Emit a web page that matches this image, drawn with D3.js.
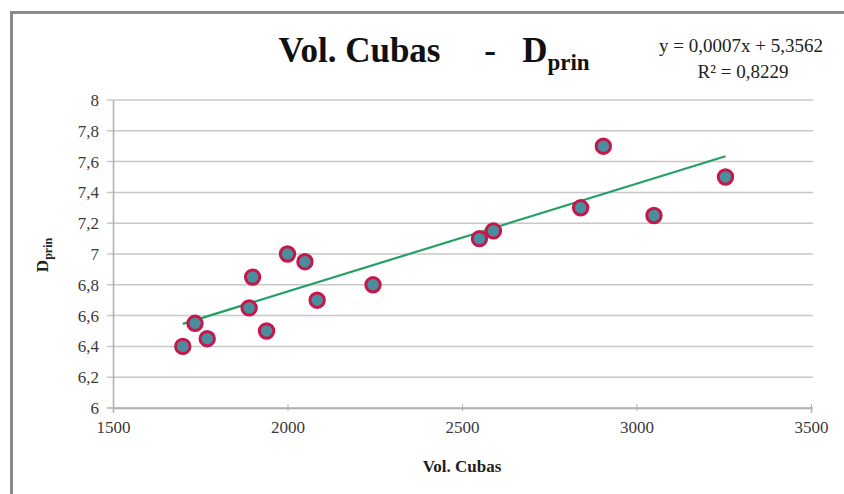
<!DOCTYPE html>
<html>
<head>
<meta charset="utf-8">
<script src="https://cdn.jsdelivr.net/npm/d3@7"></script>
<style>
  body { margin: 0; background: #fff; }
  svg text { font-family: "Liberation Serif", "DejaVu Serif", serif !important; white-space: pre; }
</style>
</head>
<body>
<div id="chart"></div>
<script>
// datos
var volCubas = [1700, 1735, 1770, 1890, 1900, 1940, 2000, 2050, 2085, 2245, 2550, 2590, 2840, 2905, 3050, 3255];
var dPrin    = [6.40, 6.55, 6.45, 6.65, 6.85, 6.50, 7.00, 6.95, 6.70, 6.80, 7.10, 7.15, 7.30, 7.70, 7.25, 7.50];
var xTicks = [1500, 2000, 2500, 3000, 3500];
var yTicks = [6, 6.2, 6.4, 6.6, 6.8, 7, 7.2, 7.4, 7.6, 7.8, 8];
var trend = { m: 0.0007, b: 5.3562 };

var width = 844, height = 494;
var serif = "Liberation Serif";
var svg = d3.select("#chart").append("svg")
    .attr("width", width)
    .attr("height", height);

// marco exterior
svg.append("rect")
    .attr("x", 11.5).attr("y", 12.5)
    .attr("width", 900).attr("height", 600)
    .attr("fill", "none")
    .attr("stroke", "#8a8a8a")
    .attr("stroke-width", 3);

var x = d3.scaleLinear().domain([1500, 3500]).range([113, 811]);
var y = d3.scaleLinear().domain([6, 8]).range([408, 100]);
var fmt = function (d) { return String(d).replace(".", ","); };

// lineas de cuadricula
svg.selectAll(".grid")
    .data(yTicks)
    .enter().append("line")
    .attr("x1", x(1500) - 6).attr("x2", x(3500) + 2)
    .attr("y1", function (d) { return y(d); })
    .attr("y2", function (d) { return y(d); })
    .attr("stroke", function (d) { return d === 6 ? "#b0b0b0" : "#c8c8c8"; })
    .attr("stroke-width", 1.5);

// eje Y
var yAxis = svg.append("g")
    .attr("transform", "translate(" + x(1500) + ",0)")
    .call(d3.axisLeft(y).tickValues(yTicks).tickSize(0).tickPadding(14).tickFormat(fmt));
yAxis.attr("font-family", serif);
yAxis.select(".domain").attr("stroke", "#b0b0b0").attr("stroke-width", 1.5);
yAxis.selectAll("text").attr("font-size", 17).attr("fill", "#3a3a3a");

// eje X
var xAxis = svg.append("g")
    .attr("transform", "translate(0," + y(6) + ")")
    .call(d3.axisBottom(x).tickValues(xTicks).tickSize(5).tickPadding(8).tickFormat(d3.format("d")));
xAxis.attr("font-family", serif);
xAxis.select(".domain").attr("stroke", "#b0b0b0").attr("stroke-width", 1.5);
xAxis.selectAll(".tick line").attr("stroke", "#b0b0b0").attr("y1", -4).attr("y2", 3);
xAxis.selectAll("text").attr("font-size", 17).attr("fill", "#3a3a3a");

// linea de tendencia
var x0 = d3.min(volCubas), x1 = d3.max(volCubas);
svg.append("line")
    .attr("x1", x(x0)).attr("y1", y(trend.m * x0 + trend.b))
    .attr("x2", x(x1)).attr("y2", y(trend.m * x1 + trend.b))
    .attr("stroke", "#23a064")
    .attr("stroke-width", 2.2);

// puntos
svg.selectAll(".pt")
    .data(volCubas)
    .enter().append("circle")
    .attr("cx", function (d) { return x(d); })
    .attr("cy", function (d, i) { return y(dPrin[i]); })
    .attr("r", 7.2)
    .attr("fill", "#4a8d9e")
    .attr("stroke", "#c8164a")
    .attr("stroke-width", 3);

// titulo
var title = svg.append("text")
    .attr("x", 434).attr("y", 62)
    .attr("text-anchor", "middle")
    .attr("font-family", serif)
    .attr("font-size", 35).attr("font-weight", "bold").attr("fill", "#111");
title.append("tspan").text("Vol. Cubas     -   D");
title.append("tspan").attr("font-size", 23).attr("dy", 8).text("prin");

// ecuacion
svg.append("text")
    .attr("x", 741).attr("y", 52)
    .attr("text-anchor", "middle")
    .attr("font-family", serif)
    .attr("font-size", 19).attr("fill", "#222")
    .text("y = 0,0007x + 5,3562");
svg.append("text")
    .attr("x", 743).attr("y", 78)
    .attr("text-anchor", "middle")
    .attr("font-family", serif)
    .attr("font-size", 19).attr("fill", "#222")
    .text("R² = 0,8229");

// titulos de ejes
svg.append("text")
    .attr("x", 462).attr("y", 472)
    .attr("text-anchor", "middle")
    .attr("font-family", serif)
    .attr("font-size", 17).attr("font-weight", "bold").attr("fill", "#222")
    .text("Vol. Cubas");

var yl = svg.append("text")
    .attr("transform", "translate(48,255) rotate(-90)")
    .attr("text-anchor", "middle")
    .attr("font-family", serif)
    .attr("font-size", 17).attr("font-weight", "bold").attr("fill", "#222");
yl.append("tspan").text("D");
yl.append("tspan").attr("font-size", 12).attr("dy", 4).text("prin");
</script>
</body>
</html>
